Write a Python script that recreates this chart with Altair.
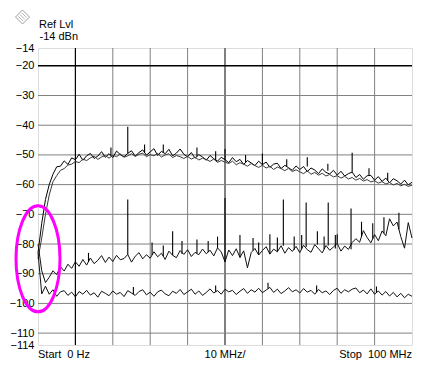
import altair as alt
import pandas as pd

# ---------------- data ----------------
freq_mhz = list(range(0, 101))  # 1 MHz steps, 0 .. 100 MHz

trace_upper_a = [
    -83, -73, -65, -60, -56.5, -54, -53.8, -52, -53.2, -51,
    -51.6, -49.8, -51.8, -50.3, -49.5, -51.2, -50.4, -48.9, -50.8, -49.6,
    -50.9, -48.7, -49.9, -50.6, -49.5, -48.6, -50.4, -49.2, -48.3, -50.1,
    -49, -47.9, -50.2, -48.8, -49.6, -48.1, -50.3, -49.4, -48, -49.8,
    -50.6, -49.2, -51.1, -49.9, -50.7, -51.8, -50.2, -51.3, -52.1, -50.8,
    -51.6, -52.6, -50.9, -52.3, -51.5, -53.2, -51.9, -52.7, -53.6, -52.1,
    -53.3, -52.4, -54.2, -53.1, -52.8, -54.6, -53.5, -54.3, -55.2, -53.7,
    -54.9, -53.9, -55.6, -54.4, -55.1, -56.3, -54.7, -55.9, -56.4, -55.2,
    -56.8, -55.5, -57.1, -56.3, -55.8, -57.6, -56.6, -58.2, -57, -56.9,
    -58.5, -57.3, -58.9, -57.8, -59.4, -58, -58.7, -59.8, -58.5, -60.1,
    -59.2,
]

trace_upper_b = [
    -85, -78, -70, -63.5, -59, -57, -55.2, -54.6, -53.4, -53.1,
    -52.2, -52.6, -51.4, -51.9, -51, -50.4, -51.5, -50.7, -50.2, -51.1,
    -50.1, -50.6, -49.7, -50.8, -50.3, -49.6, -50.5, -49.8, -49.4, -50.6,
    -49.9, -50.3, -49.5, -50.7, -50, -49.6, -50.9, -50.2, -50.6, -51.2,
    -50.5, -51.4, -50.8, -51.7, -51.1, -51.5, -52.2, -51.4, -52.5, -51.9,
    -52.4, -52.9, -52.1, -53.3, -52.6, -53.1, -53.8, -52.9, -53.6, -54.2,
    -53.5, -54.4, -53.8, -54.9, -54.1, -54.6, -55.3, -54.5, -55.6, -55,
    -55.7, -56.3, -55.4, -56.5, -55.9, -56.8, -56.2, -57.1, -56.6, -57.4,
    -57, -57.8, -57.2, -58.1, -57.6, -58.5, -57.9, -58.8, -58.3, -59.1,
    -58.7, -59.5, -59, -59.8, -59.3, -60.1, -59.6, -60.4, -59.9, -60.6,
    -60.2,
]

trace_middle = [
    -80, -89, -93, -91.2, -89, -90.3, -87.6, -89.1, -86.8, -88.2,
    -86, -87.5, -85.2, -87.1, -84.7, -86.6, -85.5, -83.9, -86.2, -84.4,
    -85.9, -83.8, -85.3, -84.9, -83.5, -86.1, -84.1, -82.9, -85, -83.6,
    -84.8, -82.6, -84.3, -83.1, -85.2, -82.4, -83.8, -84.6, -82.2, -83.5,
    -81.9, -84.2, -82.8, -83.6, -81.7, -83.3, -82.1, -84, -81.3, -82.7,
    -86, -82, -83.9, -81.6, -84.5, -82.3, -88, -82.9, -81.5, -83.7,
    -82.2, -80.9, -83.4, -81.7, -82.6, -80.6, -83.1, -81.2, -82.5, -80.8,
    -82.9, -80.4, -81.9, -82.8, -80.2, -81.6, -83, -80.5, -82.1, -81,
    -79.8, -82.4, -80.7, -81.8, -79.5, -78.2, -79.4, -75.5, -77.8, -79.6,
    -76.8, -78.9, -75.6, -77.2, -71.5, -73.9, -72.6, -77.5, -81.4, -72.8,
    -78,
]

trace_lower = [
    -83, -96.8, -94.2, -96.9, -95.4, -97.6, -96.1, -95.7, -97.3, -96.2,
    -97.8, -96, -96.9, -95.6, -97.2, -96.4, -97.9, -95.9, -96.6, -97.4,
    -95.8, -96.9, -96.3, -97.7, -95.7, -96.5, -97.3, -96, -95.4, -97.1,
    -96.2, -97.6, -96.1, -95.5, -96.8, -97.4, -95.9, -96.6, -95.3, -97,
    -96.1, -95.2, -96.9, -95.8, -97.3, -96.3, -95.1, -96.5, -95.7, -96.9,
    -95.2, -96.1, -95.6, -97, -95.9, -95, -96.6, -95.4, -96.2, -94.9,
    -96.4, -95.5, -94.6, -96.3, -95.2, -96.7, -95.8, -94.7, -96.1, -95.4,
    -96.5, -95, -96.2, -95.6, -96.9, -95.3, -96.4, -95.8, -97, -95.6,
    -94.9, -96.6, -95.4, -96.1, -95.2, -94.8, -96.4, -95.5, -96.8, -95.1,
    -96.9, -95.8, -97.2, -96, -97.5, -96.3, -97.8, -96.6, -98.1, -96.9,
    -97.6,
]

# spurs: frequency, trace level at the foot, peak level
spur_freq = [
    24, 50, 60, 84, 19.5, 28.5, 33.5, 42.5, 47.5, 55.5, 66.5, 72, 77.5, 88.5, 93.5,
    24, 36, 48, 50, 54, 62, 65.6, 71.7, 74.7, 77.6, 80, 83.7,
    13.5, 30.5, 33.5, 38.5, 42.5, 45.5, 57.5, 59, 64, 68.5, 70.5, 76.5, 79.5, 86.5, 89.5, 92.5, 96.5,
    25.5, 47.5, 61.5, 74.5, 90.5,
]
spur_base = [
    -49.5, -51.6, -53.3, -55.8, -50.2, -49.2, -49.2, -50.5, -51.7, -52.5, -53.9, -53.9, -55.3, -57, -58.6,
    -83.5, -83.8, -81.3, -86, -84.5, -83.4, -80.6, -81, -80.2, -80.5, -79.8, -81.8,
    -86, -83.7, -84, -83.4, -83.2, -82.7, -82.2, -83.7, -82.6, -81.9, -81.6, -81.8, -81.5, -77.5, -78.2, -76.4, -75,
    -96.9, -96.1, -95, -96.2, -96.3,
]
spur_peak = [
    -40.5, -48, -49.5, -49.3, -47.5, -46.5, -46.5, -47.5, -48.8, -50, -51.5, -50.8, -53, -54.5, -56,
    -65, -75.7, -77.5, -64.5, -77, -76.7, -65, -66, -75.7, -66, -76.7, -68,
    -83, -79.5, -80.5, -79, -78.5, -79, -78, -79.5, -77.8, -77.5, -77, -77.5, -77, -72.5, -73, -71, -69.5,
    -94.5, -94, -93, -94, -94.3,
]

y_tick_values = [-14, -20, -30, -40, -50, -60, -70, -80, -90, -100, -110, -114]
grid_db_gray = [-30, -40, -50, -60, -70, -80, -90, -100, -110]
grid_db_black = [-20]
grid_f_gray = [20, 30, 40, 60, 70, 80, 90]
grid_f_black = [10]
grid_f_center = [50]

x_labels = ["Start\u00a0 0 Hz", "10 MHz/", "Stop\u00a0 100 MHz"]
x_label_pos = [0, 50, 100]

ref_text = ["Ref Lvl", "-14 dBn"]

# circled region (annotation): centre frequency / level
mark_f = [0]
mark_db = [-85]

# ---------------- chart ----------------
FONT = "Liberation Sans"
W, H = 374, 297

xs = alt.Scale(domain=[0, 100], nice=False, zero=False)
ys = alt.Scale(domain=[-114, -14], nice=False, zero=False)

Y_AXIS = alt.Axis(
    values=y_tick_values, title=None, ticks=False, domain=False, grid=False,
    labelFont=FONT, labelFontSize=11, labelColor="#000", labelPadding=4,
    labelOverlap=False, labelFlush=False, labelBaseline="middle")


def Yq(field):
    return alt.Y(field, scale=ys, axis=Y_AXIS, title=None)


rows = []
for name, arr in [("a", trace_upper_a), ("b", trace_upper_b), ("m", trace_middle), ("l", trace_lower)]:
    for i, (f, v) in enumerate(zip(freq_mhz, arr)):
        rows.append({"trace": name, "f": f, "db": v, "i": i})
traces = pd.DataFrame(rows)

X = alt.X("f:Q", scale=xs, axis=None)


def vrules(vals, color, width):
    return alt.Chart(pd.DataFrame({"f": vals})).mark_rule(color=color, strokeWidth=width).encode(x=X)


def hrules(vals, color, width):
    return alt.Chart(pd.DataFrame({"db": vals})).mark_rule(color=color, strokeWidth=width).encode(
        y=Yq("db:Q"))


grid = (hrules(grid_db_gray, "#808080", 1) + vrules(grid_f_gray, "#808080", 1)
        + vrules(grid_f_center, "#808080", 2) + vrules(grid_f_black, "#000", 1.2)
        + hrules(grid_db_black, "#000", 1.4))

lines = alt.Chart(traces).mark_line(strokeWidth=1, strokeJoin="miter").encode(
    x=X,
    y=Yq("db:Q"),
    detail="trace:N",
    order="i:Q",
    color=alt.Color("trace:N", scale=alt.Scale(domain=["a", "b", "m", "l"],
                                               range=["#000", "#3a3a3a", "#111", "#111"]), legend=None),
)

spurs = alt.Chart(pd.DataFrame({"f": spur_freq, "db": spur_base, "p": spur_peak})).mark_rule(
    color="#000", strokeWidth=1.1).encode(
    x=X, y=Yq("db:Q"), y2="p:Q")

xlab = alt.Chart(pd.DataFrame({"t": x_labels, "f": x_label_pos,
                               "al": ["left", "center", "right"]}))
text_layers = []
for al in ["left", "center", "right"]:
    text_layers.append(
        xlab.transform_filter(f"datum.al == '{al}'").mark_text(
            align=al, baseline="middle", font=FONT, fontSize=11, color="#000").encode(
            x=X, y=alt.value(H + 10), text="t:N"))

ref1 = alt.Chart(pd.DataFrame({"t": [ref_text[0]]})).mark_text(
    align="left", baseline="alphabetic", font=FONT, fontSize=11, color="#000").encode(
    x=alt.value(1), y=alt.value(-20.5), text="t:N")
ref2 = alt.Chart(pd.DataFrame({"t": [ref_text[1]]})).mark_text(
    align="left", baseline="alphabetic", font=FONT, fontSize=11, color="#000").encode(
    x=alt.value(1.5), y=alt.value(-8.5), text="t:N")
icon_outer = alt.Chart(pd.DataFrame({"k": [1]})).mark_point(
    shape="diamond", size=196, filled=False, stroke="#777", strokeWidth=1).encode(
    x=alt.value(-15.5), y=alt.value(-31))
icon_inner = alt.Chart(pd.DataFrame({"k": [1]})).mark_point(
    shape="M -0.6 -0.1 L 0.1 0.6 M -0.35 -0.35 L 0.35 0.35 M -0.1 -0.6 L 0.6 0.1",
    size=196, filled=False, stroke="#999", strokeWidth=1).encode(
    x=alt.value(-15.5), y=alt.value(-31))

ellipse = alt.Chart(pd.DataFrame({"f": mark_f, "db": mark_db})).mark_point(
    shape="M -0.415 0 A 0.415 1 0 1 1 0.415 0 A 0.415 1 0 1 1 -0.415 0 Z",
    size=106 * 106, filled=False, stroke="#ff00ff", strokeWidth=3, opacity=1).encode(
    x=X, y=Yq("db:Q"))

chart = alt.layer(
    grid, lines, spurs, *text_layers,
    ref1, ref2, icon_outer, icon_inner, ellipse,
).properties(
    width=W, height=H,
    autosize=alt.AutoSizeParams(type="none"),
    padding={"left": 30, "top": 40, "right": 17, "bottom": 32},
).configure_view(
    stroke="#000", strokeWidth=1.6, fill="white",
).configure(background="white")

chart.save("out.html", embed_options={"renderer": "svg", "actions": False})
